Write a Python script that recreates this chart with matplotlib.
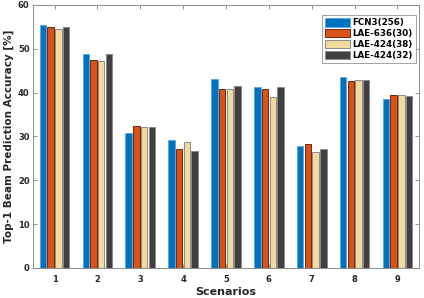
import matplotlib
matplotlib.use("Agg")
import matplotlib.pyplot as plt
import numpy as np

scenarios = ["1", "2", "3", "4", "5", "6", "7", "8", "9"]
series_names = ["FCN3(256)", "LAE-636(30)", "LAE-424(38)", "LAE-424(32)"]
fcn3_256 = [55.5, 48.8, 30.9, 29.2, 43.0, 41.4, 27.8, 43.6, 38.6]
lae636_30 = [55.0, 47.4, 32.4, 27.1, 40.9, 40.9, 28.2, 42.7, 39.5]
lae424_38 = [54.5, 47.2, 32.1, 28.7, 40.8, 38.9, 26.4, 42.9, 39.4]
lae424_32 = [55.0, 48.8, 32.1, 26.7, 41.5, 41.4, 27.1, 42.8, 39.2]

data = [fcn3_256, lae636_30, lae424_38, lae424_32]
colors = ["#0072BD", "#D95319", "#F2D99E", "#404040"]
edges = ["#5aa9e6", "#6b2a0c", "#8a8a8a", "#8a8a8a"]

fig = plt.figure(figsize=(4.24, 2.98), dpi=100)
ax = fig.add_axes([0.078, 0.1007, 0.910, 0.8826])

x = np.arange(1, len(scenarios) + 1)
w = 0.15
step = 0.18
for i, (vals, c, e, name) in enumerate(zip(data, colors, edges, series_names)):
    ax.bar(x + (i - 1.5) * step, vals, width=w, color=c, edgecolor=e,
           linewidth=0.7, label=name, zorder=2)

ax.set_xlim(0.5, 9.5)
ax.set_ylim(0, 60)
ax.set_xticks(x)
ax.set_xticklabels(scenarios)
ax.set_yticks(np.arange(0, 61, 10))
ax.tick_params(direction="in", top=True, right=True, length=3, width=0.6,
               color="#808080", labelsize=6, labelcolor="#262626", pad=2.5)
ax.tick_params(axis="x", pad=5)
for lab in ax.get_xticklabels() + ax.get_yticklabels():
    lab.set_fontweight("bold")
for s in ax.spines.values():
    s.set_color("#8c8c8c")
    s.set_linewidth(0.7)

ax.set_xlabel("Scenarios", fontsize=8, fontweight="bold", color="#262626", labelpad=2)
ax.set_ylabel("Top-1 Beam Prediction Accuracy [%]", fontsize=7.5, fontweight="bold",
              color="#262626", labelpad=3)

leg = ax.legend(loc="upper right", bbox_to_anchor=(0.998, 0.97),
                prop={"weight": "bold", "size": 6.3}, frameon=True, fancybox=False,
                handlelength=2.9, handleheight=1.1, handletextpad=0.3,
                borderpad=0.3, labelspacing=0.2, borderaxespad=0.3)
leg.get_frame().set_edgecolor("#8c8c8c")
leg.get_frame().set_linewidth(0.7)

fig.savefig("out.png", dpi=100)
